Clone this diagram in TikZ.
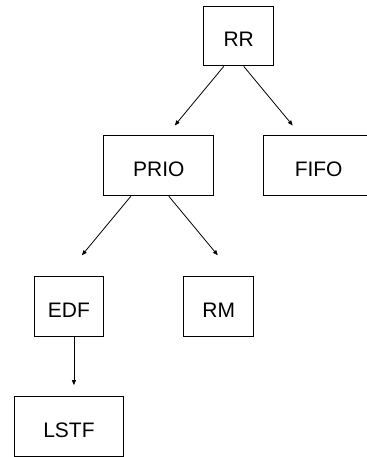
\documentclass[tikz,border=0pt]{standalone}
\usepackage{fontspec}
\setmainfont{Liberation Sans}
\usetikzlibrary{arrows.meta}
\begin{document}
\begin{tikzpicture}[x=1pt,y=-1pt,
  box/.style={draw,line width=0.9pt,inner sep=0pt,text height=21pt,text depth=0pt,font=\fontsize{21}{25}\selectfont},
  small/.style={box,minimum width=70pt,minimum height=60pt},
  wide/.style={box,minimum width=110pt,minimum height=60pt},
  arr/.style={line width=0.8pt,-{Triangle[length=5pt,width=4pt]}}]
\useasboundingbox (0,0) rectangle (367,457.5);
\node[small] (rr) at (239,36) {RR};
\node[wide] (prio) at (159,166) {PRIO};
\node[wide] (fifo) at (319,166) {FIFO};
\node[small] (edf) at (69,307) {EDF};
\node[small] (rm) at (219,307) {RM};
\node[wide] (lstf) at (69,427) {LSTF};
\draw[arr] ([xshift=-15pt]rr.south) -- ([shift={(16,-10)}]prio.north);
\draw[arr] ([xshift=5pt]rr.south) -- ([shift={(-26,-10)}]fifo.north);
\draw[arr] ([xshift=-28pt]prio.south) -- ([shift={(13,-21)}]edf.north);
\draw[arr] ([xshift=10pt]prio.south) -- ([shift={(-1,-21)}]rm.north);
\draw[arr] ([xshift=5pt]edf.south) -- ([shift={(5,-11)}]lstf.north);
\end{tikzpicture}
\end{document}
